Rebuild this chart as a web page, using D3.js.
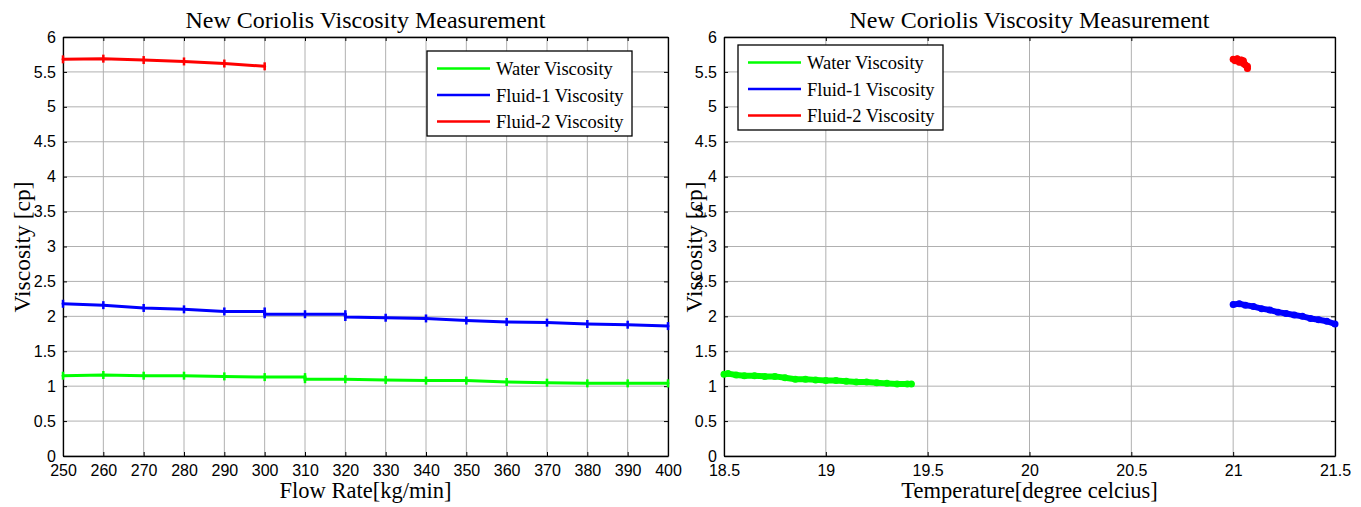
<!DOCTYPE html>
<html>
<head>
<meta charset="utf-8">
<script src="https://cdn.jsdelivr.net/npm/d3@7"></script>
<style>
  body { margin: 0; background: #fff; }
  svg { display: block; }
</style>
</head>
<body>
<div id="chart"></div>
<script>
// left panel: viscosity vs flow rate
var waterFlow = [[250,1.15],[260,1.16],[270,1.15],[280,1.15],[290,1.14],[300,1.13],[310,1.13],[310,1.10],[320,1.10],[330,1.09],[340,1.08],[350,1.08],[360,1.06],[370,1.05],[380,1.04],[390,1.04],[400,1.04]];
var fluid1Flow = [[250,2.18],[260,2.16],[270,2.12],[280,2.10],[290,2.07],[300,2.07],[300,2.03],[310,2.03],[320,2.03],[320,1.99],[330,1.98],[340,1.97],[350,1.94],[360,1.92],[370,1.91],[380,1.89],[390,1.88],[400,1.86]];
var fluid2Flow = [[250,5.68],[260,5.69],[270,5.67],[280,5.65],[290,5.62],[300,5.58]];

// right panel: viscosity vs temperature
var waterTemp = [[18.5,1.17],[18.52,1.18],[18.56,1.16],[18.6,1.15],[18.65,1.15],[18.7,1.14],[18.75,1.14],[18.8,1.12],[18.85,1.10],[18.9,1.10],[18.95,1.09],[19.0,1.08],[19.05,1.08],[19.1,1.07],[19.15,1.06],[19.2,1.06],[19.25,1.05],[19.3,1.04],[19.35,1.03],[19.4,1.03],[19.42,1.03]];
var fluid1Temp = [[21.0,2.17],[21.03,2.18],[21.06,2.16],[21.1,2.14],[21.14,2.11],[21.18,2.09],[21.22,2.06],[21.26,2.04],[21.3,2.02],[21.34,2.00],[21.38,1.97],[21.42,1.95],[21.46,1.93],[21.5,1.89]];
var fluid2Temp = [[21.0,5.68],[21.01,5.66],[21.02,5.69],[21.03,5.64],[21.04,5.67],[21.05,5.62],[21.05,5.66],[21.06,5.60],[21.07,5.58],[21.07,5.55]];

var flowTicks = d3.range(250, 401, 10);
var tempTicks = [18.5, 19, 19.5, 20, 20.5, 21, 21.5];
var viscTicks = [0, 0.5, 1, 1.5, 2, 2.5, 3, 3.5, 4, 4.5, 5, 5.5, 6];
var seriesNames = ["Water Viscosity", "Fluid-1 Viscosity", "Fluid-2 Viscosity"];
var seriesColors = ["#00ff00", "#0000ff", "#ff0000"];

var serif = "Liberation Serif, Times New Roman, serif";

var svg = d3.select("#chart").append("svg")
  .attr("width", 1361)
  .attr("height", 507);

function drawPanel(opts) {
  var x = d3.scaleLinear().domain(opts.xDomain).range([opts.left, opts.right]);
  var y = d3.scaleLinear().domain([0, 6]).range([456, 37]);
  var g = svg.append("g");

  // grid
  g.selectAll(".gx").data(opts.xTicks).enter().append("line")
    .attr("x1", d => x(d)).attr("x2", d => x(d))
    .attr("y1", y(0)).attr("y2", y(6))
    .attr("stroke", "#b0b0b0").attr("stroke-width", 1);
  g.selectAll(".gy").data(viscTicks).enter().append("line")
    .attr("x1", opts.left).attr("x2", opts.right)
    .attr("y1", d => y(d)).attr("y2", d => y(d))
    .attr("stroke", "#b0b0b0").attr("stroke-width", 1);

  // axes with inward ticks
  var fmt = d3.format("");
  g.append("g").attr("transform", "translate(0," + y(0) + ")")
    .call(d3.axisBottom(x).tickValues(opts.xTicks).tickSizeInner(-4).tickSizeOuter(0).tickPadding(9).tickFormat(fmt));
  g.append("g").attr("transform", "translate(0," + y(6) + ")")
    .call(d3.axisTop(x).tickValues(opts.xTicks).tickSizeInner(-4).tickSizeOuter(0).tickFormat(""));
  g.append("g").attr("transform", "translate(" + opts.left + ",0)")
    .call(d3.axisLeft(y).tickValues(viscTicks).tickSizeInner(-4).tickSizeOuter(0).tickPadding(7).tickFormat(fmt));
  g.append("g").attr("transform", "translate(" + opts.right + ",0)")
    .call(d3.axisRight(y).tickValues(viscTicks).tickSizeInner(-4).tickSizeOuter(0).tickFormat(""));
  g.selectAll(".domain").attr("stroke", "#000").attr("stroke-width", 1.3);
  g.selectAll(".tick line").attr("stroke", "#000");
  g.selectAll(".tick text").attr("font-family", "Liberation Sans, Arial, sans-serif")
    .attr("font-size", 16).attr("fill", "#000");

  // data
  var line = d3.line().x(d => x(d[0])).y(d => y(d[1]));
  opts.series.forEach(function(s, i) {
    g.append("path").datum(s)
      .attr("d", line)
      .attr("fill", "none")
      .attr("stroke", seriesColors[i])
      .attr("stroke-width", opts.width)
      .attr("stroke-linecap", "round")
      .attr("stroke-linejoin", "round");
    if (opts.markers) {
      g.selectAll(null).data(s).enter().append("line")
        .attr("x1", d => x(d[0])).attr("x2", d => x(d[0]))
        .attr("y1", d => y(d[1]) - 4).attr("y2", d => y(d[1]) + 4)
        .attr("stroke", seriesColors[i]).attr("stroke-width", 2.5);
    } else {
      g.selectAll(null).data(s).enter().append("circle")
        .attr("cx", d => x(d[0])).attr("cy", d => y(d[1]))
        .attr("r", opts.width / 2 + 0.5)
        .attr("fill", seriesColors[i]);
    }
  });

  var cx = (opts.left + opts.right) / 2;
  svg.append("text").attr("x", cx).attr("y", 28)
    .attr("text-anchor", "middle")
    .attr("font-family", serif)
    .attr("font-size", 24).text("New Coriolis Viscosity Measurement");
  svg.append("text").attr("x", cx).attr("y", 498)
    .attr("text-anchor", "middle")
    .attr("font-family", serif)
    .attr("font-size", 22.5).text(opts.xLabel);
  svg.append("text")
    .attr("transform", "translate(" + opts.yLabelX + "," + 247 + ") rotate(-90)")
    .attr("text-anchor", "middle")
    .attr("font-family", serif)
    .attr("font-size", 23.5).text("Viscosity [cp]");

  // legend
  var lg = svg.append("g").attr("transform", "translate(" + opts.legX + "," + opts.legY + ")");
  lg.append("rect").attr("width", 205).attr("height", 85)
    .attr("fill", "#fff").attr("stroke", "#000").attr("stroke-width", 1.3);
  seriesNames.forEach(function(name, i) {
    var ry = 17.5 + i * 26.5;
    lg.append("line").attr("x1", 10).attr("x2", 63).attr("y1", ry).attr("y2", ry)
      .attr("stroke", seriesColors[i]).attr("stroke-width", 2.5);
    lg.append("text").attr("x", 69).attr("y", ry + 6.5)
      .attr("font-family", serif)
      .attr("font-size", 18.5).text(name);
  });
}

drawPanel({
  xDomain: [250, 400], xTicks: flowTicks, left: 63, right: 668,
  series: [waterFlow, fluid1Flow, fluid2Flow], width: 3, markers: true,
  xLabel: "Flow Rate[kg/min]", yLabelX: 30, legX: 427, legY: 51
});
drawPanel({
  xDomain: [18.5, 21.5], xTicks: tempTicks, left: 724, right: 1335,
  series: [waterTemp, fluid1Temp, fluid2Temp], width: 6, markers: false,
  xLabel: "Temperature[degree celcius]", yLabelX: 702, legX: 738, legY: 45
});
</script>
</body>
</html>
